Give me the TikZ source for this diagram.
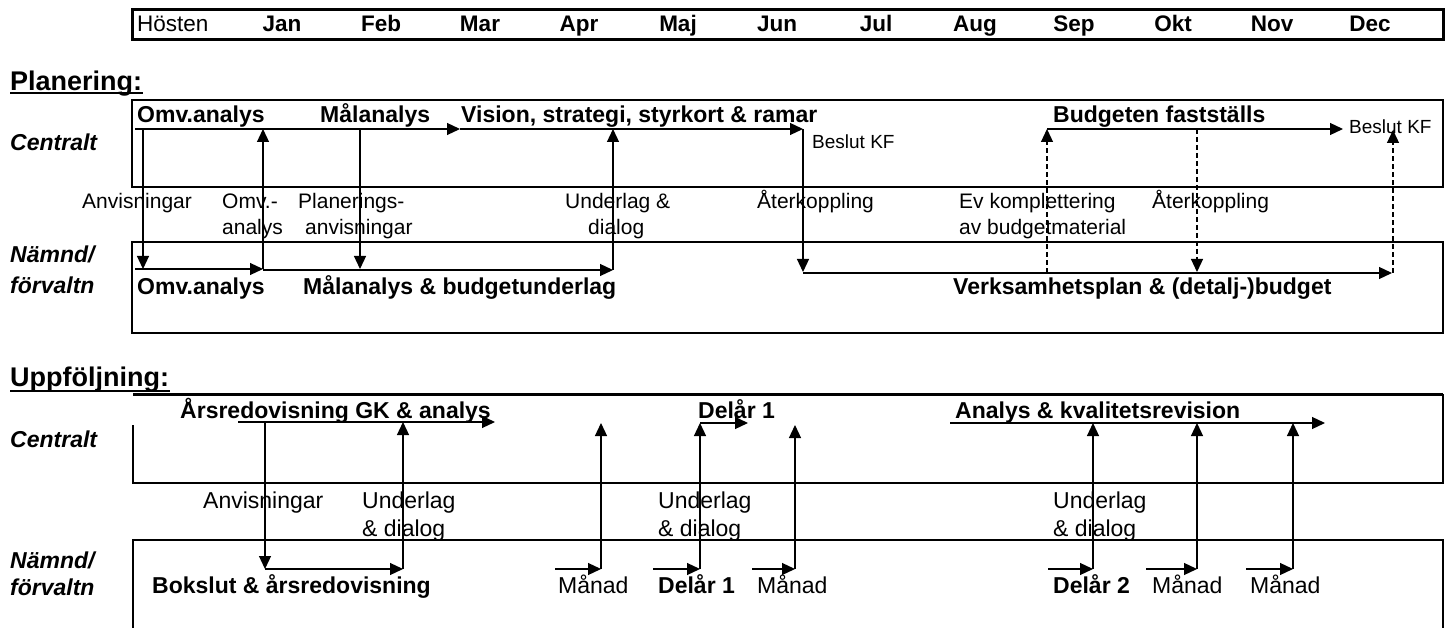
\documentclass[tikz,border=0pt]{standalone}
\usepackage{fontspec}
\setmainfont{Liberation Sans}
\usetikzlibrary{arrows.meta}
\begin{document}
\begin{tikzpicture}[x=1pt,y=-1pt,
  lbl/.style={inner sep=0pt, anchor=base west, font=\fontsize{21}{25}\selectfont},
  ulbl/.style={inner sep=0pt, anchor=base west, font=\fontsize{23}{27}\selectfont},
  blbl/.style={inner sep=0pt, anchor=base west, font=\fontsize{23}{27}\selectfont\bfseries},
  side/.style={inner sep=0pt, anchor=base west, font=\fontsize{23}{27}\selectfont\bfseries\itshape},
  sect/.style={inner sep=0pt, anchor=base west, font=\fontsize{27}{31}\selectfont\bfseries},
  small/.style={inner sep=0pt, anchor=base west, font=\fontsize{19}{22}\selectfont},
  month/.style={inner sep=0pt, anchor=base, font=\fontsize{22.5}{26}\selectfont\bfseries},
  frame/.style={line width=2.5pt},
  flow/.style={line width=1.2pt, -{Triangle[length=13pt,width=12pt]}},
  dflow/.style={flow, dash pattern=on 5pt off 3pt},
]
\useasboundingbox (0,0) rectangle (1449,628);

% ---------- header ----------
\draw[line width=3pt] (132,10) rectangle (1443,40);
\node[inner sep=0pt, anchor=base west, font=\fontsize{22.5}{26}\selectfont] (hosten) at (137,32) {Hösten};
\node[month] (m1) at (282,32) {Jan};
\node[month] (m2) at (381,32) {Feb};
\node[month] (m3) at (480,32) {Mar};
\node[month] (m4) at (579,32) {Apr};
\node[month] (m5) at (678,32) {Maj};
\node[month] (m6) at (777,32) {Jun};
\node[month] (m7) at (876,32) {Jul};
\node[month] (m8) at (975,32) {Aug};
\node[month] (m9) at (1074,32) {Sep};
\node[month] (m10) at (1173,32) {Okt};
\node[month] (m11) at (1272,32) {Nov};
\node[month] (m12) at (1370,32) {Dec};

% ---------- Planering ----------
\node[sect] (plan) at (10,91) {Planering:};
\draw[line width=2pt] (plan.base west)++(0,2.5) -- ++(133,0);
\draw[frame] (132,100) rectangle (1443,187);
\draw[frame] (132,242) rectangle (1443,333);
\node[side] (pc) at (10,151) {Centralt};
\node[side] (pn1) at (10,263) {Nämnd/};
\node[side] (pn2) at (10,294) {förvaltn};

\node[blbl] (p1) at (137,123) {Omv.analys};
\node[blbl] (p2) at (320,123) {Målanalys};
\node[blbl] (p3) at (461,123) {Vision, strategi, styrkort \& ramar};
\node[blbl] (p4) at (1053,123) {Budgeten fastställs};
\node[small] (kf1) at (812,149) {Beslut KF};
\node[small] (kf2) at (1349,134) {Beslut KF};

\node[lbl] (t1) at (82,209) {Anvisningar};
\node[lbl] (t2) at (222,209) {Omv.-};
\node[lbl] (t2b) at (222,235) {analys};
\node[lbl] (t3) at (298,209) {Planerings-};
\node[lbl] (t3b) at (305,235) {anvisningar};
\node[lbl] (t4) at (565,209) {Underlag \&};
\node[lbl] (t4b) at (588,235) {dialog};
\node[lbl] (t5) at (757,209) {Återkoppling};
\node[lbl] (t6) at (959,209) {Ev komplettering};
\node[lbl] (t6b) at (959,235) {av budgetmaterial};
\node[lbl] (t7) at (1152,209) {Återkoppling};

\node[blbl] (n1) at (137,295) {Omv.analys};
\node[blbl] (n2) at (303,295) {Målanalys \& budgetunderlag};
\node[blbl] (n3) at (953,295) {Verksamhetsplan \& (detalj-)budget};

% coordinates (central line y=129, nämnd line ~270)
\coordinate (c0) at (135,129);
\coordinate (c1) at (143,129);
\coordinate (c2) at (263,129);
\coordinate (c3) at (360,129);
\coordinate (c4) at (460,129);
\coordinate (c5) at (613,129);
\coordinate (c6) at (803,129);
\coordinate (c7) at (1047,129);
\coordinate (c8) at (1197,129);
\coordinate (c9) at (1343,129);
\coordinate (c10) at (1393,130);
\coordinate (d0) at (135,269);
\coordinate (d1) at (143,269);
\coordinate (d2) at (263,269);
\coordinate (d3) at (360,269);
\coordinate (d5) at (613,270);
\coordinate (d6) at (803,272);
\coordinate (d6s) at (803,273);
\coordinate (d7) at (1047,273);
\coordinate (d8) at (1197,272);
\coordinate (d10) at (1392,273);
\coordinate (d10v) at (1393,273);

\draw[flow] (c0) -- (c4);
\draw[flow] (c4) -- (c6);
\draw[flow] (c7) -- (c9);
\draw[flow] (c1) -- (d1);
\draw[flow] (d2) -- (c2);
\draw[flow] (c3) -- (d3);
\draw[flow] (d5) -- (c5);
\draw[flow] (c6) -- (d6);
\draw[flow] (d0) -- (d2);
\draw[flow] (263,270) -- (d5);
\draw[flow] (d6s) -- (d10);
\draw[dflow] (d7) -- (c7);
\draw[dflow] (c8) -- (d8);
\draw[dflow] (d10v) -- (c10);

% ---------- Uppföljning ----------
\node[sect] (upp) at (10,386) {Uppföljning:};
\draw[line width=2pt] (upp.base west)++(0,5) -- ++(160,0);
\draw[line width=3pt] (133,394) -- (1443,394);
\draw[frame] (133,425) -- (133,483) -- (1443,483) -- (1443,394);
\draw[frame] (133,628) -- (133,540) -- (1443,540) -- (1443,628);
\node[side] (uc) at (10,447) {Centralt};
\node[side] (un1) at (10,568) {Nämnd/};
\node[side] (un2) at (10,595) {förvaltn};

\node[blbl] (u1) at (180,418) {Årsredovisning GK \& analys};
\node[blbl] (u2) at (698,418) {Delår 1};
\node[blbl] (u3) at (955,418) {Analys \& kvalitetsrevision};

\node[ulbl] (v1) at (203,508) {Anvisningar};
\node[ulbl] (v2) at (362,508) {Underlag};
\node[ulbl] (v2b) at (362,536) {\& dialog};
\node[ulbl] (v3) at (658,508) {Underlag};
\node[ulbl] (v3b) at (658,536) {\& dialog};
\node[ulbl] (v4) at (1053,508) {Underlag};
\node[ulbl] (v4b) at (1053,536) {\& dialog};

\node[blbl] (w1) at (152,593) {Bokslut \& årsredovisning};
\node[ulbl] (w2) at (558,593) {Månad};
\node[blbl] (w3) at (658,593) {Delår 1};
\node[ulbl] (w4) at (757,593) {Månad};
\node[blbl] (w5) at (1053,593) {Delår 2};
\node[ulbl] (w6) at (1152,593) {Månad};
\node[ulbl] (w7) at (1250,593) {Månad};

\coordinate (e0) at (238,422);
\coordinate (e1) at (265,422);
\coordinate (e2) at (403,422);
\coordinate (e3) at (495,422);
\coordinate (e4) at (601,423);
\coordinate (e5) at (700,423);
\coordinate (e6) at (748,423);
\coordinate (e7) at (795,425);
\coordinate (e8) at (950,423);
\coordinate (e9) at (1093,423);
\coordinate (e10) at (1197,423);
\coordinate (e11) at (1293,423);
\coordinate (e12) at (1325,423);
\coordinate (f1) at (265,569);
\coordinate (f2) at (403,569);
\coordinate (f3s) at (555,569);
\coordinate (f4) at (601,569);
\coordinate (f4s) at (653,569);
\coordinate (f5) at (700,569);
\coordinate (f6s) at (752,569);
\coordinate (f7) at (795,569);
\coordinate (f8s) at (1048,569);
\coordinate (f9) at (1093,569);
\coordinate (f9s) at (1146,569);
\coordinate (f10) at (1197,569);
\coordinate (f10s) at (1246,569);
\coordinate (f11) at (1293,569);

\draw[flow] (e0) -- (e3);
\draw[flow] (e5) -- (e6);
\draw[flow] (e8) -- (e12);
\draw[flow] (e1) -- (f1);
\draw[flow] (f1) -- (f2);
\draw[flow] (f2) -- (e2);
\draw[flow] (f3s) -- (f4);
\draw[flow] (f4) -- (e4);
\draw[flow] (f4s) -- (f5);
\draw[flow] (f5) -- (e5);
\draw[flow] (f6s) -- (f7);
\draw[flow] (f7) -- (e7);
\draw[flow] (f8s) -- (f9);
\draw[flow] (f9) -- (e9);
\draw[flow] (f9s) -- (f10);
\draw[flow] (f10) -- (e10);
\draw[flow] (f10s) -- (f11);
\draw[flow] (f11) -- (e11);
\end{tikzpicture}
\end{document}
